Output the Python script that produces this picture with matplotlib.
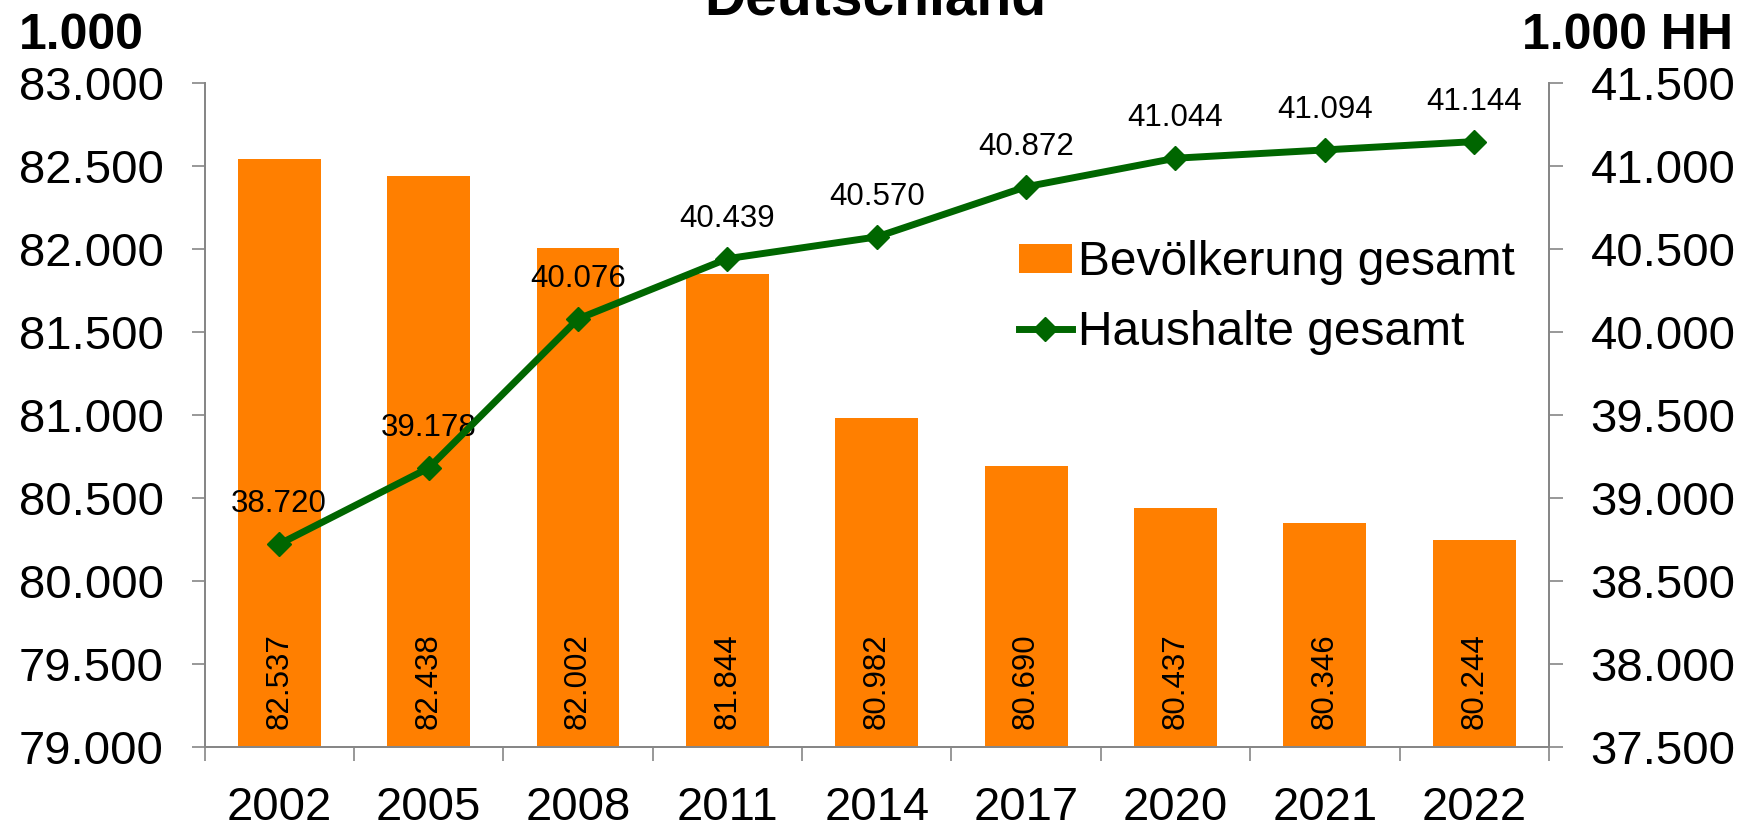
import numpy as np
import matplotlib
matplotlib.use('Agg')
import matplotlib.pyplot as plt
from matplotlib.ticker import FuncFormatter, FixedLocator

plt.rcParams['font.family'] = ['Liberation Sans', 'DejaVu Sans']

# Bevölkerung und Haushalte in Deutschland (jeweils in 1.000)
jahre = ['2002', '2005', '2008', '2011', '2014', '2017', '2020', '2021', '2022']
bevoelkerung = [82537, 82438, 82002, 81844, 80982, 80690, 80437, 80346, 80244]
haushalte = [38720, 39178, 40076, 40439, 40570, 40872, 41044, 41094, 41144]

ORANGE = '#FF7F00'
GRUEN = '#006600'
GRAU = '#868686'


def punkt_format(v, pos=None):
    # deutsche Tausendertrennung
    return f'{v:,.0f}'.replace(',', '.')


fig = plt.figure(figsize=(17.51, 8.25), dpi=100)
ax = fig.add_axes([0.1168, 0.0949, 0.7678, 0.8051])
ax2 = ax.twinx()

x = np.arange(len(jahre))

# Balken: Bevölkerung (linke Achse)
ax.bar(x, bevoelkerung, width=0.555, color=ORANGE, label='Bevölkerung gesamt', zorder=2)
ax.set_ylim(79000, 83000)
ax.set_xlim(-0.5, len(jahre) - 0.5)
ax.yaxis.set_major_locator(FixedLocator(np.arange(79000, 83001, 500)))
ax.yaxis.set_major_formatter(FuncFormatter(punkt_format))

for xi, v in zip(x, bevoelkerung):
    ax.annotate(punkt_format(v), xy=(xi, 79000), xytext=(0, 13), textcoords='offset points',
                rotation=90, ha='center', va='bottom', fontsize=22.5, zorder=3)

# Linie: Haushalte (rechte Achse)
ax2.plot(x, haushalte, color=GRUEN, lw=5, marker='D', ms=12.5, mew=1,
         label='Haushalte gesamt', zorder=4)
ax2.set_ylim(37500, 41500)
ax2.yaxis.set_major_locator(FixedLocator(np.arange(37500, 41501, 500)))
ax2.yaxis.set_major_formatter(FuncFormatter(punkt_format))

for xi, v in zip(x, haushalte):
    ax2.annotate(punkt_format(v), xy=(xi, v), xytext=(0, 23), textcoords='offset points',
                 ha='center', va='baseline', fontsize=22.5)

# Achsen und Ticks
ax.set_xticks(x)
ax.set_xticklabels(jahre)
ax.set_xticks(np.arange(-0.5, len(jahre)), minor=True)
ax.tick_params(axis='x', which='major', length=0, pad=28.5, labelsize=34)
ax.tick_params(axis='x', which='minor', length=10, width=1.2, color=GRAU, direction='out')
ax.tick_params(axis='y', length=9.5, width=1.2, color=GRAU, pad=20, labelsize=34)
ax2.tick_params(axis='y', length=10, width=1.2, color=GRAU, pad=20, labelsize=34)

for a in (ax, ax2):
    a.spines['top'].set_visible(False)
    for s in ('left', 'right', 'bottom'):
        a.spines[s].set_color(GRAU)
        a.spines[s].set_linewidth(1.3)

# Titel und Einheiten
fig.text(0.5, 0.983, 'Deutschland', ha='center', va='baseline', fontsize=41, fontweight='bold')
fig.text(0.011, 0.9406, '1.000', ha='left', va='baseline', fontsize=36, fontweight='bold')
fig.text(0.990, 0.9406, '1.000 HH', ha='right', va='baseline', fontsize=36, fontweight='bold')

h1, l1 = ax.get_legend_handles_labels()
h2, l2 = ax2.get_legend_handles_labels()
fig.legend(h1 + h2, l1 + l2, loc='upper left', bbox_to_anchor=(0.582, 0.7085),
           frameon=False, fontsize=34.5, handlelength=1.1, handleheight=0.55,
           handletextpad=0.12, labelspacing=0.51, borderpad=0, borderaxespad=0)

fig.savefig('out.png', dpi=100)
